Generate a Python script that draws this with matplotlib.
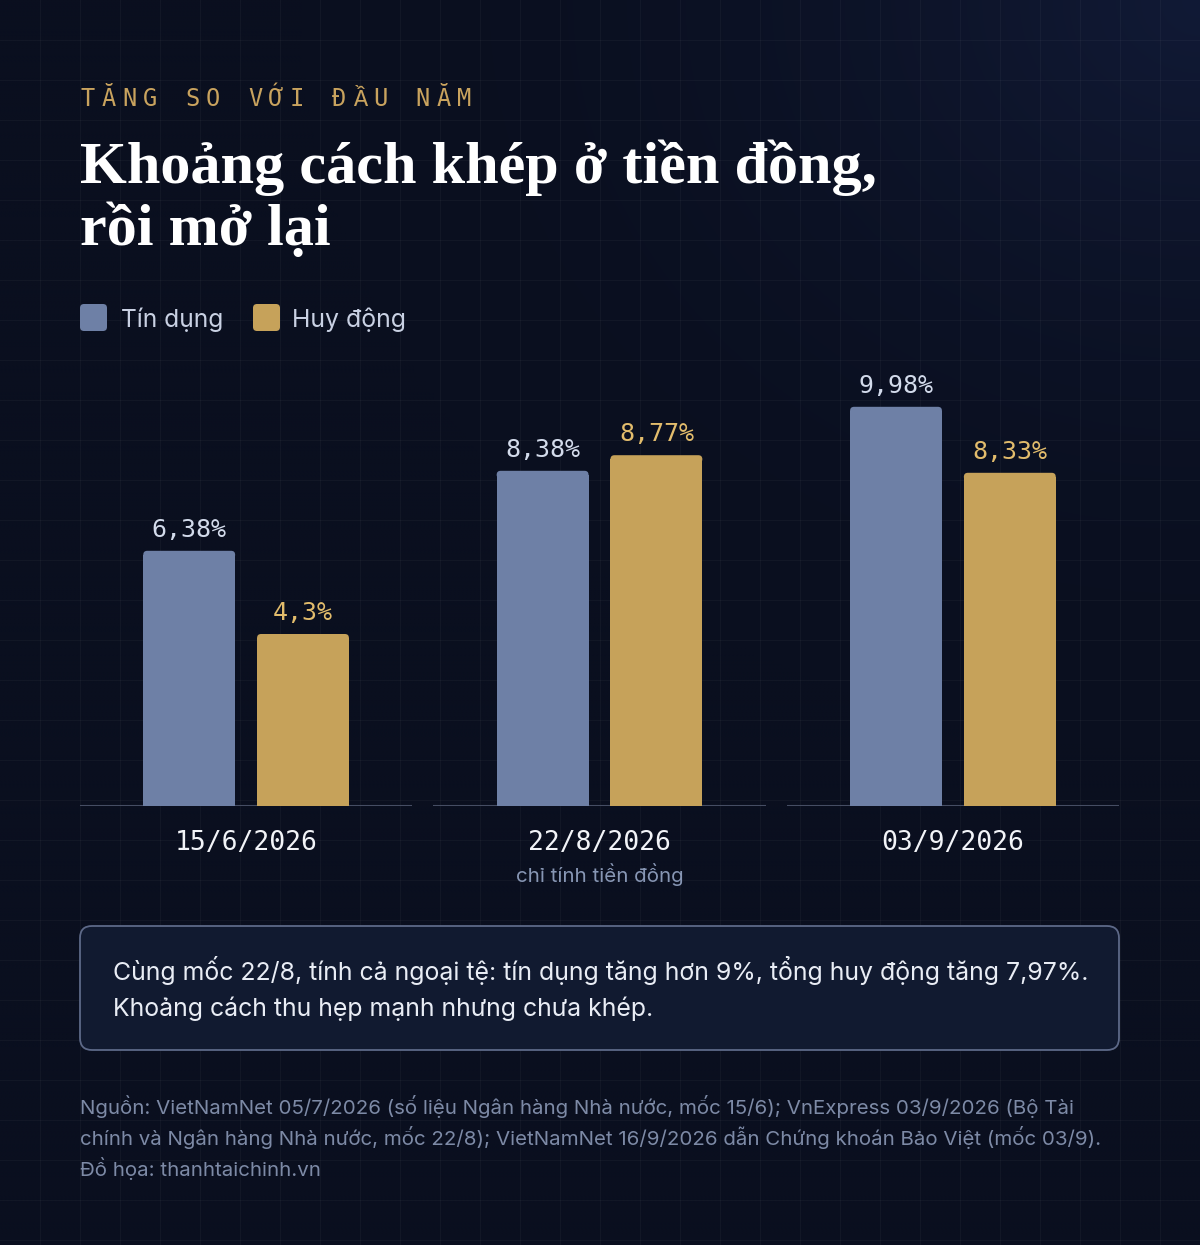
import unicodedata
import numpy as np
import matplotlib
matplotlib.use("Agg")
import matplotlib.pyplot as plt
from matplotlib.patches import FancyBboxPatch


def N(s):
    return unicodedata.normalize("NFC", s)


# ---------------- data ----------------
dates = ["15/6/2026", "22/8/2026", "03/9/2026"]
date_notes = [N(""), N("chỉ tính tiền đồng"), N("")]
series_names = [N("Tín dụng"), N("Huy động")]
tin_dung = [6.38, 8.38, 9.98]
huy_dong = [4.3, 8.77, 8.33]
tin_dung_labels = ["6,38%", "8,38%", "9,98%"]
huy_dong_labels = ["4,3%", "8,77%", "8,33%"]

kicker = N("TĂNG SO VỚI ĐẦU NĂM")
title_lines = [N("Khoảng cách khép ở tiền đồng,"), N("rồi mở lại")]
note_lines = [N("Cùng mốc 22/8, tính cả ngoại tệ: tín dụng tăng hơn 9%, tổng huy động tăng 7,97%."),
              N("Khoảng cách thu hẹp mạnh nhưng chưa khép.")]
footer_lines = [N("Nguồn: VietNamNet 05/7/2026 (số liệu Ngân hàng Nhà nước, mốc 15/6); VnExpress 03/9/2026 (Bộ Tài"),
                N("chính và Ngân hàng Nhà nước, mốc 22/8); VietNamNet 16/9/2026 dẫn Chứng khoán Bảo Việt (mốc 03/9)."),
                N("Đồ họa: thanhtaichinh.vn")]

# ---------------- style ----------------
W, H = 1200, 1245
C_TD = "#6e80a6"
C_HD = "#c6a25a"
C_TD_LBL = "#d3dbeb"
C_HD_LBL = "#e2bc6c"
BG = np.array([10, 15, 31]) / 255.0
BG_TR = np.array([17, 26, 54]) / 255.0
SANS = ["Inter", "Noto Sans", "DejaVu Sans"]
MONO = ["DejaVu Sans Mono", "Liberation Mono", "DejaVu Sans"]
SERIF = ["Liberation Serif", "DejaVu Serif"]

fig = plt.figure(figsize=(W / 100, H / 100), dpi=100)
fig.patch.set_facecolor(BG)

# background axes in pixel coordinates
bg = fig.add_axes([0, 0, 1, 1])
bg.set_xlim(0, W)
bg.set_ylim(H, 0)
bg.axis("off")

yy, xx = np.mgrid[0:H:4, 0:W:4]
d = np.sqrt((xx - W) ** 2 + (yy * 1.2) ** 2)
f = np.clip(1 - d / 900.0, 0, 1) ** 2.0
img = BG[None, None, :] + (BG_TR - BG)[None, None, :] * f[..., None]
bg.imshow(img, extent=(0, W, H, 0), aspect="auto", zorder=0, interpolation="bilinear")
for gx in range(40, W, 40):
    bg.axvline(gx, color="white", alpha=0.035, lw=0.8, zorder=1)
for gy in range(40, H, 40):
    bg.axhline(gy, color="white", alpha=0.035, lw=0.8, zorder=1)

renderer = fig.canvas.get_renderer()


def fit(t, width):
    bb = t.get_window_extent(renderer)
    t.set_fontsize(t.get_fontsize() * width / bb.width)
    return t


# kicker (letter-spaced)
x0, step = 87.5, 20.94
for i, ch in enumerate(kicker):
    bg.text(x0 + i * step, 106, ch, ha="center", va="baseline", family=MONO,
            fontsize=17, color="#c9a35e", zorder=5)

# title
t1 = bg.text(80, 183, title_lines[0], ha="left", va="baseline", family=SERIF,
             weight="bold", fontsize=40, color="white", zorder=5)
fit(t1, 796)
bg.text(80, 245, title_lines[1], ha="left", va="baseline", family=SERIF,
        weight="bold", fontsize=t1.get_fontsize(), color="white", zorder=5)

# legend
for (lx, tx, tw), name, col in zip([(80, 121, 102), (253, 292, 114)], series_names, [C_TD, C_HD]):
    bg.add_patch(FancyBboxPatch((lx + 3, 307), 21, 21, boxstyle="round,pad=3,rounding_size=4",
                                fc=col, ec="none", zorder=5))
    lt = bg.text(tx, 327, name, ha="left", va="baseline", family=SANS, fontsize=18,
                 color="#c9d1e3", zorder=5)
    fit(lt, tw)

# ---------------- chart ----------------
ax_l, ax_r, ax_top, ax_bot = 80, 1119, 356, 806
ax = fig.add_axes([ax_l / W, 1 - ax_bot / H, (ax_r - ax_l) / W, (ax_bot - ax_top) / H])
ax.set_facecolor("none")
ax.axis("off")
ax.set_xlim(-0.47, 2.47)
ax.set_ylim(0, (ax_bot - ax_top) / 40.0)

x = np.arange(len(dates))
bw = 0.26
off = 0.161
px_x = (ax_r - ax_l) / (2.94)  # px per x unit
px_y = 40.0                    # px per y unit

for c in x:
    ax.hlines(0, c - 0.47, c + 0.47, color="#454d63", lw=1.5, zorder=1)

bars_td = ax.bar(x - off, tin_dung, width=bw, color=C_TD, zorder=2)
bars_hd = ax.bar(x + off, huy_dong, width=bw, color=C_HD, zorder=2)

r_px = 4.0
rx = r_px / px_x
ry = r_px / px_y
for bars, col in [(bars_td, C_TD), (bars_hd, C_HD)]:
    for rect in bars:
        bx, by, bwid, bh = rect.get_x(), rect.get_y(), rect.get_width(), rect.get_height()
        rect.set_height(bh - ry)
        ax.add_patch(FancyBboxPatch((bx, by + bh - 2 * ry), bwid, 2 * ry,
                                    boxstyle=f"round,pad=0,rounding_size={rx}",
                                    mutation_aspect=ry / rx, fc=col, ec="none", zorder=2))

for xi, v, lbl in zip(x - off, tin_dung, tin_dung_labels):
    ax.text(xi, v + 14 / px_y, lbl, ha="center", va="baseline", family=MONO,
            fontsize=18, color=C_TD_LBL, zorder=3)
for xi, v, lbl in zip(x + off, huy_dong, huy_dong_labels):
    ax.text(xi, v + 14 / px_y, lbl, ha="center", va="baseline", family=MONO,
            fontsize=18, color=C_HD_LBL, zorder=3)

for xi, dl, note in zip(x, dates, date_notes):
    ax.text(xi, -44 / px_y, dl, ha="center", va="baseline", family=MONO,
            fontsize=19, color="#f2f4f8", clip_on=False)
    if note:
        nt = ax.text(xi, -76 / px_y, note, ha="center", va="baseline", family=SANS,
                     fontsize=15, color="#8796b4", clip_on=False)
        fit(nt, 168)

# ---------------- note box ----------------
bg.add_patch(FancyBboxPatch((80, 926), 1039, 124, boxstyle="round,pad=0,rounding_size=12",
                            fc="#111a30", ec="#5d6988", lw=1.3, zorder=4))
n1 = bg.text(113, 980, note_lines[0], ha="left", va="baseline", family=SANS,
             fontsize=19, color="#e9edf5", zorder=5)
fit(n1, 975)
bg.text(113, 1016, note_lines[1], ha="left", va="baseline", family=SANS,
        fontsize=n1.get_fontsize(), color="#e9edf5", zorder=5)

# ---------------- footer ----------------
f1 = bg.text(80, 1114, footer_lines[0], ha="left", va="baseline", family=SANS,
             fontsize=14, color="#7d8aa6", zorder=5)
fit(f1, 997)
for i, line in enumerate(footer_lines[1:]):
    bg.text(80, 1145 + i * 30.5, line, ha="left", va="baseline", family=SANS,
            fontsize=f1.get_fontsize(), color="#7d8aa6", zorder=5)

fig.savefig("out.png", dpi=100, facecolor=fig.get_facecolor())
